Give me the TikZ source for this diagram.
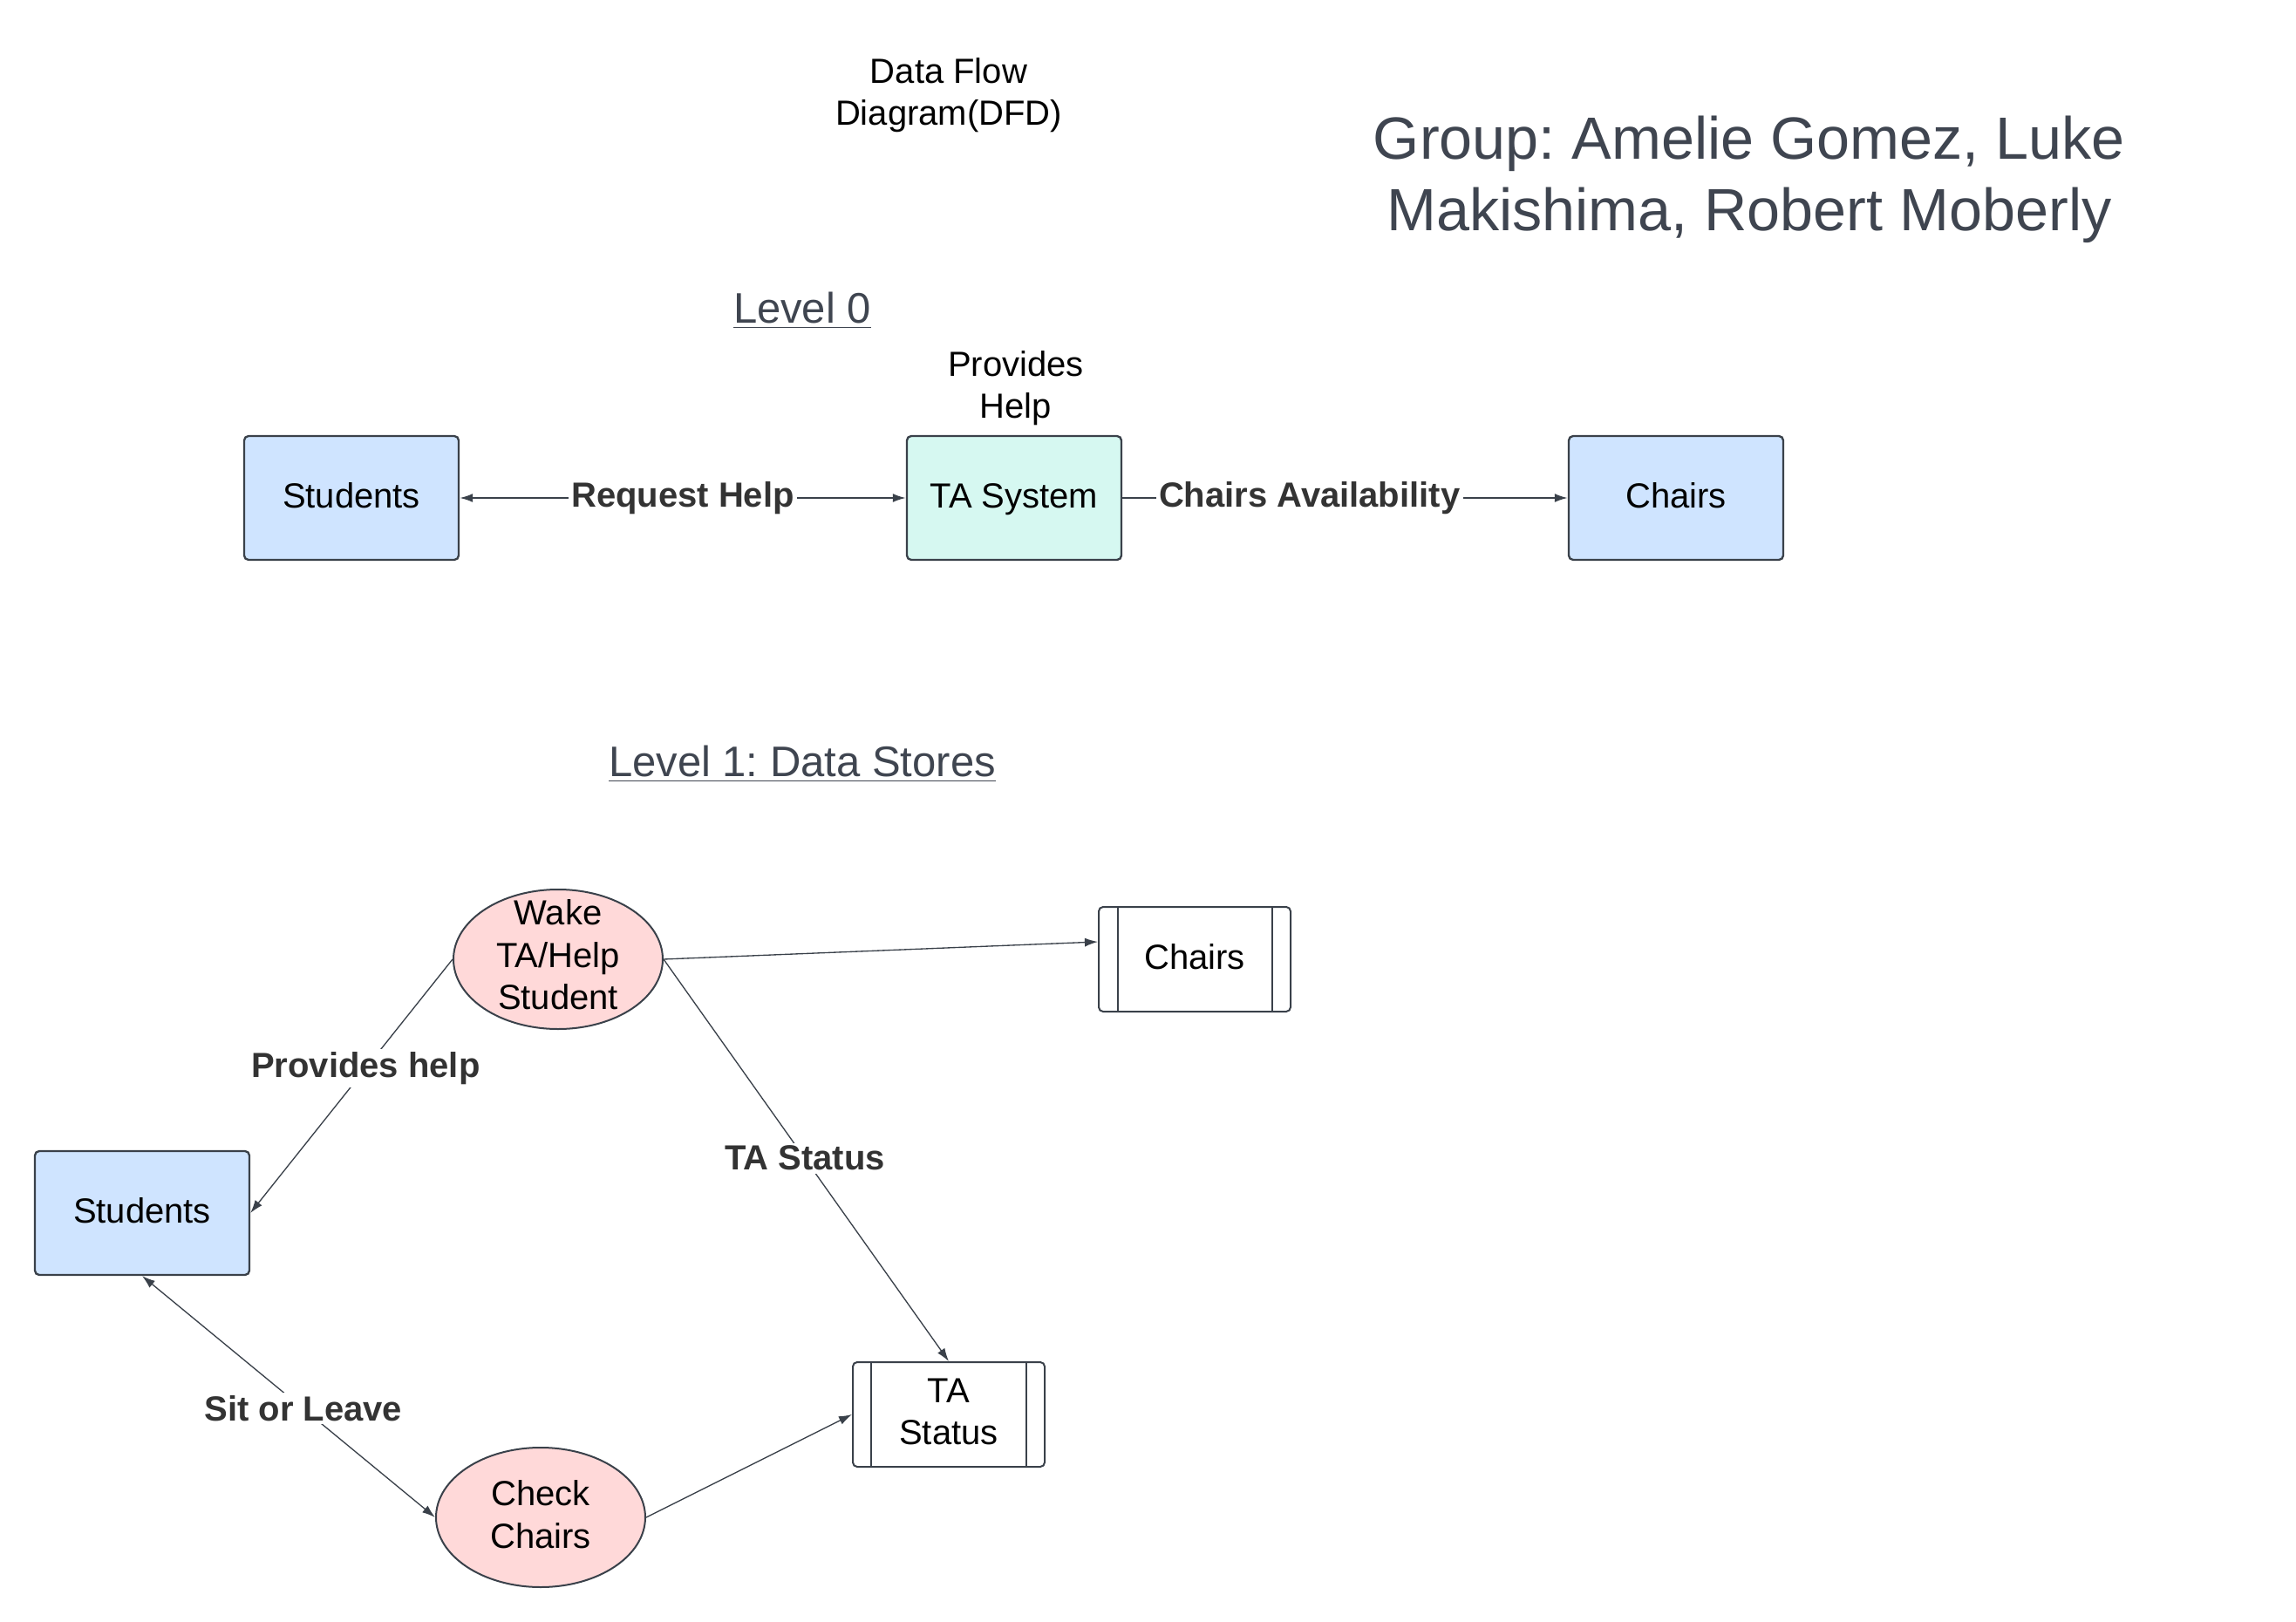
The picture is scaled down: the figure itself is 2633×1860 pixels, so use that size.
\documentclass[tikz,border=0pt]{standalone}
\usepackage{fontspec}
\setmainfont{Liberation Sans}
\usetikzlibrary{shapes.geometric,arrows.meta,calc}
\frenchspacing
\definecolor{edgec}{HTML}{3A414A}
\definecolor{labc}{HTML}{333333}
\definecolor{entfill}{HTML}{CFE4FF}
\definecolor{sysfill}{HTML}{D6F8F1}
\definecolor{procfill}{HTML}{FFD9D9}
\definecolor{headc}{HTML}{3F4550}
\tikzset{
  base/.style={font=\fontsize{12pt}{14.6pt}\selectfont, text=black, align=center},
  entity/.style={base, draw=edgec, line width=0.7pt, rounded corners=1.5pt, fill=entfill,
    minimum width=73.8pt, minimum height=42.6pt, inner sep=0pt, text height=8.8pt, text depth=1.8pt},
  sysbox/.style={entity, fill=sysfill},
  proc/.style={ellipse, draw=edgec, line width=0.6pt, fill=procfill,
    minimum width=72pt, minimum height=48pt, inner sep=0pt},
  store/.style={base, draw=edgec, line width=0.6pt, rounded corners=1.5pt, fill=white,
    minimum width=66pt, minimum height=36pt, inner sep=0pt},
  flowlab/.style={font=\fontsize{12pt}{14.6pt}\selectfont\bfseries, text=labc, fill=white, inner sep=1pt},
  flowA/.style={draw=edgec, line width=0.6pt, -{Latex[length=4.5pt,width=3pt]}},
  flowB/.style={draw=edgec, line width=0.4pt, -{Latex[length=4.5pt,width=3pt]}},
  heading/.style={font=\fontsize{14.7pt}{17.6pt}\selectfont, text=headc},
}
\begin{document}
\begin{tikzpicture}[x=0.3pt,y=-0.3pt]
\useasboundingbox (0,0) rectangle (2633,1860);

% titles
\node[base] (title) at (1088,109) {Data Flow\\Diagram(DFD)};
\node[font=\fontsize{20.5pt}{24.6pt}\selectfont, text=headc, align=center] (group) at (2006,206)
  {Group: Amelie Gomez, Luke\\Makishima, Robert Moberly};
\node[heading] (lvl0) at (920,356) {\underline{Level 0}};
\node[heading] (lvl1) at (920,876) {\underline{Level 1: Data Stores}};

% level 0
\node[entity] (stu0) at (403,571) {Students};
\node[sysbox] (ta) at (1163,571) {TA System};
\node[entity] (ch0) at (1922,571) {Chairs};
\node[base] (prov) at (1165,445) {Provides\\Help};

\draw[flowA, {Latex[length=4.5pt,width=3pt]}-{Latex[length=4.5pt,width=3pt]}] (stu0.east) -- node[flowlab, pos=0.5] {Request Help} (ta.west);
\draw[flowA] (ta.east) -- node[flowlab, pos=0.42] {Chairs Availability} (ch0.west);

% level 1
\node[proc, label={[base, yshift=1.5pt]center:{Wake\\TA/Help\\Student}}] (wake) at (640,1100) {};
\node[proc, label={[base, yshift=0.9pt]center:{Check\\Chairs}}] (check) at (620,1740) {};
\node[entity] (stu1) at (163,1391) {Students};
\node[store, text height=8.8pt, text depth=1.8pt] (cs) at (1370,1100) {Chairs};
\node[store] (ts) at (1088,1622) {};
\node[base, yshift=0.9pt] (tstext) at (ts.center) {TA\\Status};
\draw[edgec, line width=0.5pt] ($(cs.north west)+(23,0)$) -- ($(cs.south west)+(23,0)$);
\draw[edgec, line width=0.5pt] ($(cs.north east)+(-22,0)$) -- ($(cs.south east)+(-22,0)$);
\draw[edgec, line width=0.5pt] ($(ts.north west)+(22,0)$) -- ($(ts.south west)+(22,0)$);
\draw[edgec, line width=0.5pt] ($(ts.north east)+(-22,0)$) -- ($(ts.south east)+(-22,0)$);

\draw[flowB] (wake.west) -- node[flowlab, pos=0.43] {Provides help} (stu1.east);
\draw[flowB] (wake.east) -- ($(cs.west)+(0,-20)$);
\draw[flowB] (wake.east) -- node[flowlab, pos=0.495] {TA Status} (ts.north);
\draw[flowB, {Latex[length=4.5pt,width=3pt]}-{Latex[length=4.5pt,width=3pt]}] (stu1.south) -- node[flowlab, pos=0.55] {Sit or Leave} (check.west);
\draw[flowB] (check.east) -- (ts.west);
\end{tikzpicture}
\end{document}
